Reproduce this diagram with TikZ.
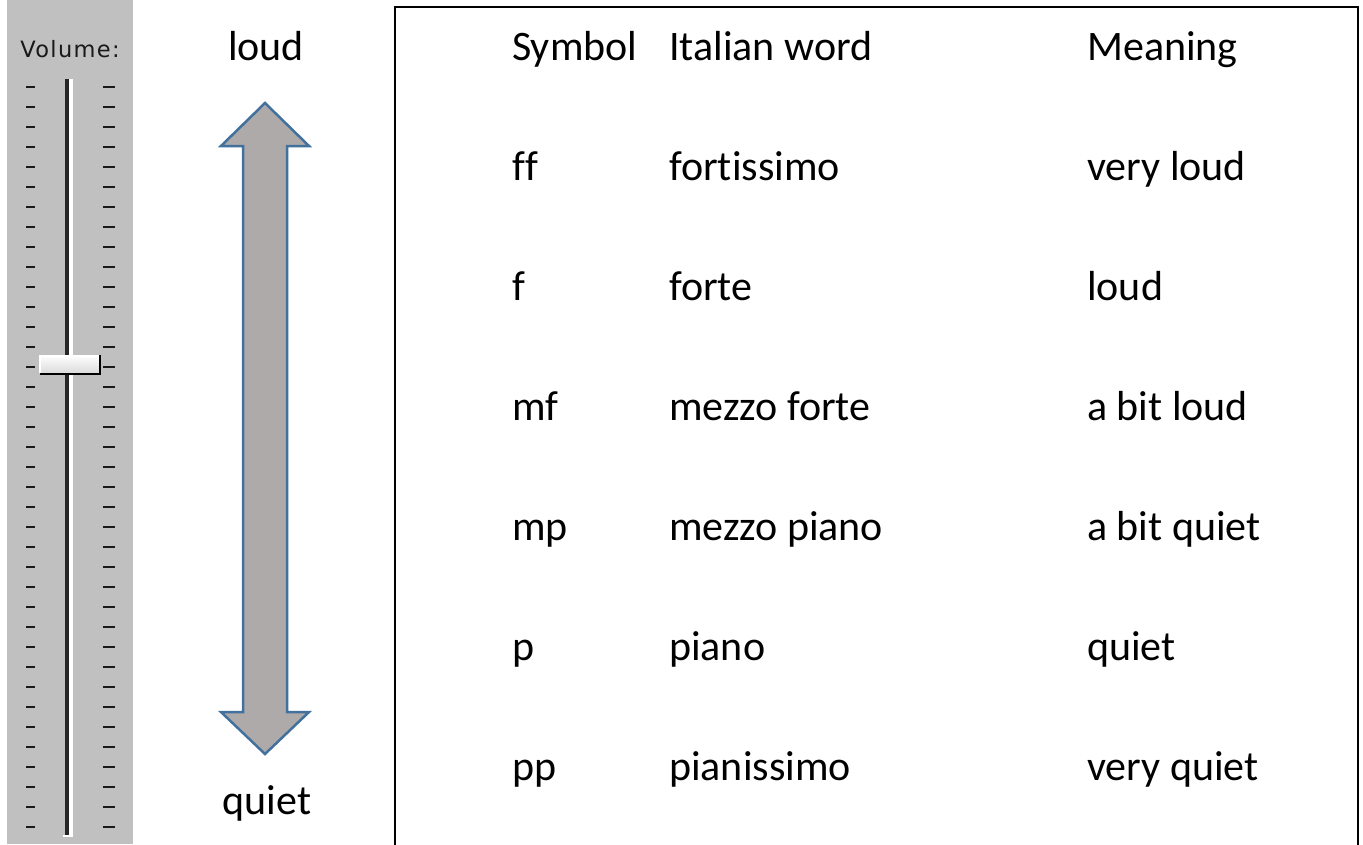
\documentclass[tikz,border=0pt]{standalone}
\usepackage{fontspec}
\setmainfont{Carlito}[Ligatures={NoCommon}]
\newfontfamily\volfont[LetterSpace=6]{DejaVu Sans}
\definecolor{panel}{RGB}{192,192,192}
\definecolor{arrowfill}{RGB}{174,170,170}
\definecolor{arrowline}{RGB}{65,113,156}
\definecolor{tickc}{RGB}{25,25,25}
\newcommand{\nl}{\kern0pt}
\tikzset{
  txt/.style={anchor=base west,inner sep=0pt,font=\fontsize{42}{50}\selectfont},
  ctxt/.style={anchor=base,inner sep=0pt,font=\fontsize{42}{50}\selectfont},
  tick/.style={draw=tickc,line width=2.5pt},
}
\begin{document}
\begin{tikzpicture}[x=1pt,y=-1pt]
\useasboundingbox (0,0) rectangle (1363,844);
\fill[white] (0,0) rectangle (1363,844);
% slider panel
\fill[panel] (7,0) rectangle (133,844);
\node[anchor=base,inner sep=0pt,text=black!90,font=\volfont\fontsize{22.5}{24}\selectfont] (vol) at (70,57) {Volume:};
\foreach \k in {0,...,37}{
  \draw[tick] (26,{87+20*\k}) -- (35,{87+20*\k});
  \draw[tick] (103,{87+20*\k}) -- (115,{87+20*\k});
}
% track
\fill[black!85] (65,79) rectangle (69,835);
\fill[white] (69,79) rectangle (73,836);
\fill[white] (63,835) rectangle (73,837);
% knob
\shade[top color=white,bottom color=black!15] (40,355) rectangle (100,374);
\draw[white,line width=1.5pt] (40,373) -- (40,356) -- (99,356);
\draw[black,line width=2pt] (40,374) -- (100,374) -- (100,355);
% arrow
\draw[arrowline,line width=2.5pt,fill=arrowfill,line join=miter]
  (265,103) -- (309,146) -- (287,146) -- (287,712) -- (309,712) -- (265,754)
  -- (221,712) -- (243,712) -- (243,146) -- (221,146) -- cycle;
\node[ctxt] (loud) at (266,60) {loud};
\node[ctxt] (quiet) at (267,814) {quiet};
% table box
\draw[black,line width=2.5pt] (395,860) -- (395,7) -- (1358,7) -- (1358,860);
% table text
\foreach \y/\a/\b/\c/\n in {60/Symbol/Italian word/Meaning/h,
  180/f\nl f/fort\nl issimo/very loud/r1,
  300/f/forte/loud/r2,
  420/mf/mezzo forte/a bit loud/r3,
  540/mp/mezzo piano/a bit quiet/r4,
  660/p/piano/quiet/r5,
  780/pp/pianissimo/very quiet/r6}{
  \node[txt] (\n a) at (512,\y) {\a};
  \node[txt] (\n b) at (669,\y) {\b};
  \node[txt] (\n c) at (1087,\y) {\c};
}
\end{tikzpicture}
\end{document}
